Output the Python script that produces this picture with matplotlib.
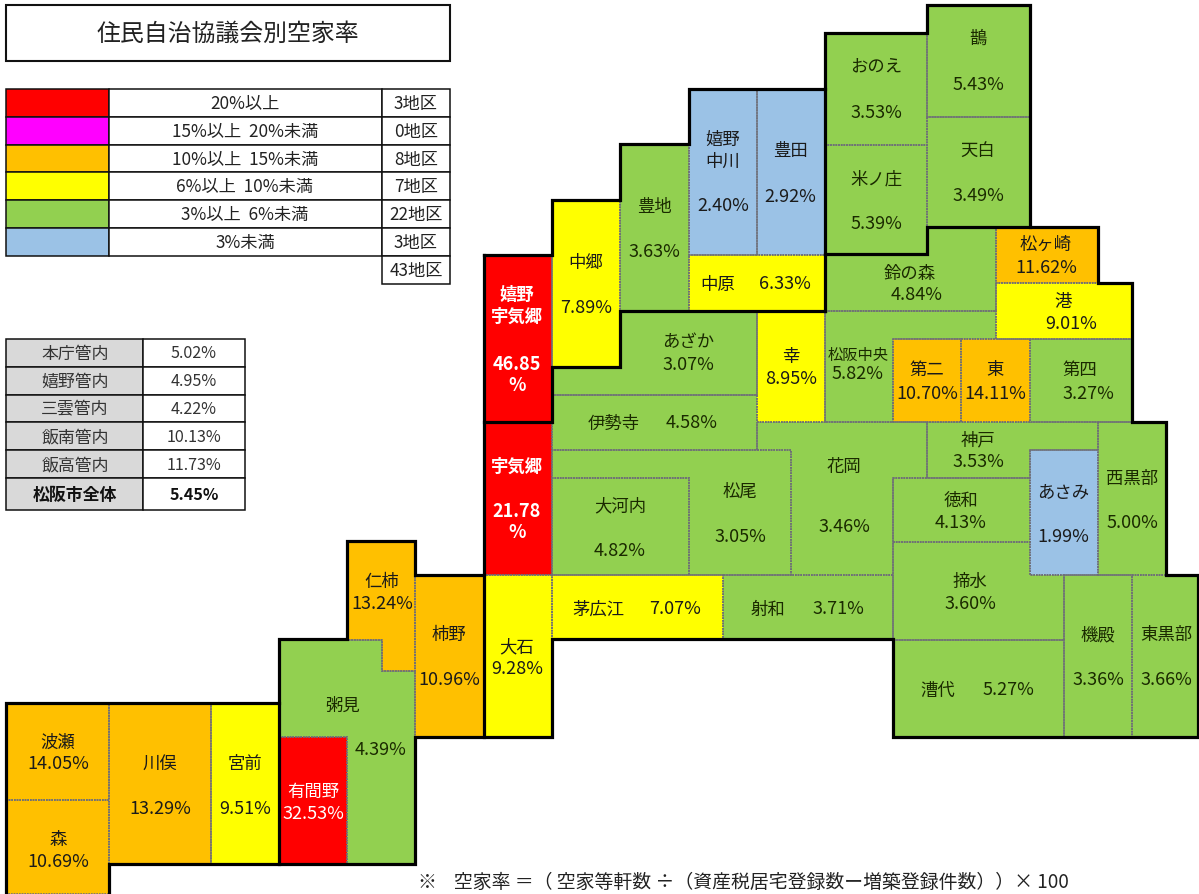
import matplotlib
matplotlib.use("Agg")
import matplotlib.pyplot as plt
from matplotlib.patches import Polygon, Rectangle

CJK = "Noto Sans CJK JP"
VAL_SIZE = 13
TAB_SIZE = 12.4

# ---------- data ----------
TITLE = "住民自治協議会別空家率"
names = ["鵲", "おのえ", "天白", "米ノ庄", "松ヶ崎", "鈴の森", "港", "松阪中央", "第二", "東", "第四",
         "嬉野\n中川", "豊田", "豊地", "中郷", "嬉野\n宇気郷", "宇気郷", "中原", "あざか", "幸", "伊勢寺", "花岡",
         "神戸", "徳和", "あさみ", "西黒部", "大河内", "松尾", "揥水", "茅広江", "射和", "機殿", "東黒部", "漕代",
         "大石", "柿野", "仁柿", "粥見", "波瀬", "森", "川俣", "宮前", "有間野"]
rates = [5.43, 3.53, 3.49, 5.39, 11.62, 4.84, 9.01, 5.82, 10.70, 14.11, 3.27,
         2.40, 2.92, 3.63, 7.89, 46.85, 21.78, 6.33, 3.07, 8.95, 4.58, 3.46,
         3.53, 4.13, 1.99, 5.00, 4.82, 3.05, 3.60, 7.07, 3.71, 3.36, 3.66, 5.27,
         9.28, 10.96, 13.24, 4.39, 14.05, 10.69, 13.29, 9.51, 32.53]
legend_labels = ["20%以上", "15%以上  20%未満", "10%以上  15%未満", "6%以上  10%未満", "3%以上  6%未満", "3%未満"]
legend_counts = ["3地区", "0地区", "8地区", "7地区", "22地区", "3地区", "43地区"]
legend_colors = ["#FF0000", "#FF00FF", "#FFC000", "#FFFF00", "#92D050", "#9BC2E6"]
class_floors = [20, 15, 10, 6, 3, 0]
office_names = ["本庁管内", "嬉野管内", "三雲管内", "飯南管内", "飯高管内", "松阪市全体"]
office_rates = ["5.02%", "4.95%", "4.22%", "10.13%", "11.73%", "5.45%"]
FOOTNOTE = "※    空家率 ＝（ 空家等軒数 ÷（資産税居宅登録数ー増築登録件数））× 100"

# ---------- layout (pixel space of the tile map) ----------
def rect(x0, y0, x1, y1):
    return [(x0, y0), (x1, y0), (x1, y1), (x0, y1)]

shapes = [
    rect(927, 5, 1030, 117), rect(825, 33, 927, 145), rect(927, 117, 1030, 227), rect(825, 145, 927, 254),
    rect(996, 227, 1098, 283),
    [(825, 254), (927, 254), (927, 227), (996, 227), (996, 311), (825, 311)],
    rect(996, 283, 1132, 339),
    [(825, 311), (996, 311), (996, 339), (893, 339), (893, 422), (825, 422)],
    rect(893, 339, 961, 422), rect(961, 339, 1030, 422), rect(1030, 339, 1132, 422),
    rect(689, 89, 757, 255), rect(757, 89, 825, 255), rect(620, 144, 689, 311), rect(552, 200, 620, 367),
    rect(484, 255, 552, 422), rect(484, 422, 552, 575), rect(689, 255, 825, 311),
    [(552, 367), (620, 367), (620, 311), (757, 311), (757, 395), (552, 395)],
    rect(757, 311, 825, 422), rect(552, 395, 757, 450),
    [(757, 422), (927, 422), (927, 478), (893, 478), (893, 575), (791, 575), (791, 450), (757, 450)],
    [(927, 422), (1098, 422), (1098, 450), (1030, 450), (1030, 478), (927, 478)],
    rect(893, 478, 1030, 542), rect(1030, 450, 1098, 575), rect(1098, 422, 1166, 575),
    rect(552, 478, 689, 575),
    [(552, 450), (791, 450), (791, 575), (689, 575), (689, 478), (552, 478)],
    [(893, 542), (1030, 542), (1030, 575), (1064, 575), (1064, 640), (893, 640)],
    rect(552, 575, 723, 639), rect(723, 575, 893, 639), rect(1064, 575, 1132, 737), rect(1132, 575, 1198, 737),
    rect(893, 640, 1064, 737),
    rect(484, 575, 552, 737), rect(415, 575, 484, 737),
    [(347, 541), (415, 541), (415, 671), (382, 671), (382, 640), (347, 640)],
    [(279, 640), (382, 640), (382, 671), (415, 671), (415, 864), (347, 864), (347, 737), (279, 737)],
    rect(6, 703, 109, 800), rect(6, 800, 109, 894), rect(109, 703, 211, 864), rect(211, 703, 279, 864),
    rect(279, 737, 347, 864),
]
name_pos = [(978, 37), (876, 65), (978, 149), (876, 177), (1046, 243), (910, 272), (1063, 300), (858, 353),
            (927, 368), (995, 368), (1080, 368),
            (723, 149), (790, 149), (654, 205), (586, 261), (517, 304), (517, 465), (718, 283), (688, 340),
            (791, 355), (614, 422), (844, 465),
            (978, 438), (961, 499), (1063, 491), (1132, 477), (620, 504), (740, 490), (970, 580), (598, 608),
            (768, 608), (1098, 633), (1166, 633), (938, 689),
            (517, 645), (449, 633), (382, 580), (343, 704), (58, 741), (58, 838), (160, 762), (245, 762), (313, 790)]
val_pos = [(978, 84), (876, 112), (978, 195), (876, 223), (1046, 267), (917, 294), (1071, 323), (858, 373),
           (927, 393), (995, 393), (1088, 393),
           (723, 205), (790, 196), (654, 251), (586, 307), (517, 374), (517, 521), (785, 283), (688, 364),
           (791, 378), (692, 422), (844, 526),
           (978, 461), (961, 522), (1063, 536), (1132, 522), (620, 550), (740, 536), (970, 603), (675, 608),
           (838, 608), (1098, 679), (1166, 679), (1008, 689),
           (517, 668), (449, 679), (382, 603), (381, 749), (58, 763), (58, 861), (160, 808), (245, 808), (313, 813)]
thick_paths = [
    [(484, 255), (552, 255), (552, 200), (620, 200), (620, 144), (689, 144), (689, 89), (825, 89), (825, 33),
     (927, 33), (927, 5), (1030, 5), (1030, 227), (1098, 227), (1098, 283), (1132, 283), (1132, 422), (1166, 422),
     (1166, 575), (1198, 575), (1198, 737), (893, 737), (893, 639), (552, 639), (552, 737), (415, 737), (415, 864),
     (109, 864), (109, 896)],
    [(6, 896), (6, 703), (279, 703), (279, 639), (347, 639), (347, 541), (415, 541), (415, 575), (484, 575), (484, 255)],
    [(825, 89), (825, 311)],
    [(825, 254), (927, 254), (927, 227), (1030, 227)],
    [(825, 311), (620, 311), (620, 367), (552, 367), (552, 422), (484, 422)],
    [(484, 575), (484, 737)],
    [(279, 703), (279, 864)],
]

W, H = 1199, 894
fig = plt.figure(figsize=(W / 100, H / 100), dpi=100, facecolor="white")
ax = fig.add_axes([0, 0, 1, 1])
ax.set_xlim(0, W)
ax.set_ylim(H, 0)
ax.axis("off")

def cls_color(v):
    for floor, col in zip(class_floors, legend_colors):
        if v >= floor:
            return col
    return legend_colors[-1]

def box(x0, y0, x1, y1, fc="white", lw=1.1, z=2):
    ax.add_patch(Rectangle((x0, y0), x1 - x0, y1 - y0, fc=fc, ec="#111111", lw=lw, zorder=z))

# title
box(6, 5, 450, 61, lw=1.5)
ax.text(228, 34, TITLE, family=CJK, fontsize=17.2, ha="center", va="center", color="#222222", zorder=5)

# legend table
legend_rows = [89, 117, 145, 172, 200, 228, 256, 284]
for i, (lab, cnt, col) in enumerate(zip(legend_labels, legend_counts, legend_colors)):
    y0, y1 = legend_rows[i], legend_rows[i + 1]
    box(6, y0, 109, y1, fc=col)
    box(109, y0, 382, y1)
    box(382, y0, 450, y1)
    ax.text(245, (y0 + y1) / 2 + 1, lab, family=CJK, fontsize=TAB_SIZE, ha="center", va="center", color="#222222", zorder=5)
    ax.text(416, (y0 + y1) / 2 + 1, cnt, family=CJK, fontsize=TAB_SIZE, ha="center", va="center", color="#222222", zorder=5)
box(382, legend_rows[6], 450, legend_rows[7])
ax.text(416, 271, legend_counts[6], family=CJK, fontsize=TAB_SIZE, ha="center", va="center", color="#222222", zorder=5)

# office summary table
office_rows = [339, 367, 395, 422, 450, 478, 510]
for i, (nm, rt) in enumerate(zip(office_names, office_rates)):
    y0, y1 = office_rows[i], office_rows[i + 1]
    last = i == len(office_names) - 1
    box(6, y0, 143, y1, fc="#D9D9D9")
    box(143, y0, 245, y1)
    w = "bold" if last else "normal"
    ax.text(75, (y0 + y1) / 2 + 1, nm, family=CJK, fontsize=12.2, weight=w, ha="center", va="center",
            color="#111111" if last else "#333333", zorder=5)
    ax.text(194, (y0 + y1) / 2 + 1, rt, family=CJK, fontsize=11.6, weight=w, ha="center", va="center",
            color="#111111" if last else "#333333", zorder=5)

# tiles
for nm, v, pts, np_, vp in zip(names, rates, shapes, name_pos, val_pos):
    ax.add_patch(Polygon(pts, closed=True, fc=cls_color(v), ec="none", zorder=2))
    ax.add_patch(Polygon(pts, closed=True, fc="none", ec="#6E6E78", lw=1.2, ls=(0, (1, 0.6)), zorder=3))
    white = v >= 20
    heavy = white and nm != "有間野"
    tc = "white" if white else "#1A2A00" if 3 <= v < 6 else "#1A1A1A"
    ns = 11 if nm == "松阪中央" else 12.5
    ax.text(np_[0], np_[1] + 2, nm, family=CJK, fontsize=ns, weight="bold" if heavy else "normal",
            ha="center", va="center", color=tc, linespacing=1.3, zorder=5)
    vs = f"{v:.2f}%"
    if nm in ("嬉野\n宇気郷", "宇気郷"):
        vs = f"{v:.2f}\n%"
    ax.text(vp[0], vp[1] + 1, vs, family=CJK, fontsize=VAL_SIZE, weight="bold" if heavy else "normal",
            ha="center", va="center", color=tc, linespacing=1.1, zorder=5)

for path in thick_paths:
    xs, ys = zip(*path)
    ax.plot(xs, ys, color="black", lw=2.3, solid_capstyle="projecting", solid_joinstyle="miter", zorder=4)

ax.text(418, 882, FOOTNOTE, family=CJK, fontsize=13.6, ha="left", va="center", color="#222222", zorder=5)

fig.savefig("out.png", dpi=100, facecolor="white")
